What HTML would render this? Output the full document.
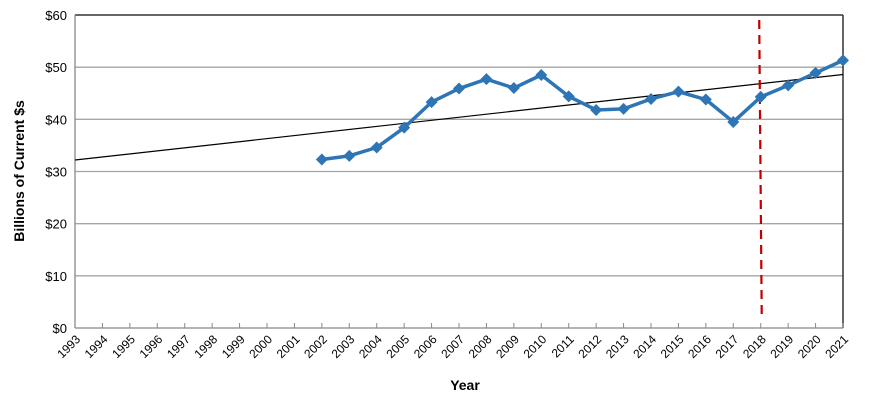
<!DOCTYPE html>
<html><head><meta charset="utf-8"><style>
body{margin:0;background:#fff;}
svg{display:block;font-family:"Liberation Sans",sans-serif;}
</style></head><body>
<svg id="chart" width="870" height="410" xmlns="http://www.w3.org/2000/svg">
<g id="grid"></g>
<g id="axes"></g>
<g id="series"></g>
<text x="465" y="390" text-anchor="middle" font-size="14" font-weight="bold">Year</text>
<text transform="translate(24,171) rotate(-90)" text-anchor="middle" font-size="14" font-weight="bold">Billions of Current $s</text>
</svg>
<script>
const years=[1993,1994,1995,1996,1997,1998,1999,2000,2001,2002,2003,2004,2005,2006,2007,2008,2009,2010,2011,2012,2013,2014,2015,2016,2017,2018,2019,2020,2021];
const dataYears=[2002,2003,2004,2005,2006,2007,2008,2009,2010,2011,2012,2013,2014,2015,2016,2017,2018,2019,2020,2021];
const values=[32.3,33,34.6,38.4,43.3,45.9,47.7,46,48.5,44.4,41.8,42,43.9,45.3,43.8,39.5,44.3,46.5,48.9,51.3];
const yTicks=[0,10,20,30,40,50,60];
const trendStart=32.2, trendEnd=48.6;
const markerYear=2018;
const NS="http://www.w3.org/2000/svg";
const L=75,R=843,T=15,B=328;
const x=y=>L+(y-1993)/(2021-1993)*(R-L);
const yv=v=>B-v/60*(B-T);
function mk(tag,attrs,parent){const e=document.createElementNS(NS,tag);for(const k in attrs)e.setAttribute(k,attrs[k]);parent.appendChild(e);return e;}
const grid=document.getElementById('grid'),axes=document.getElementById('axes'),ser=document.getElementById('series');
yTicks.forEach(t=>{
  if(t>0&&t<60){const l=mk('line',{x1:L,x2:R,y1:yv(t),y2:yv(t),stroke:'#a6a6a6','stroke-width':1.3},grid);
  
  }
  const tx=mk('text',{x:L-8,y:yv(t)+5,'text-anchor':'end','font-size':13},axes);tx.textContent='$'+t;
  
  
});
mk('line',{x1:L,x2:R,y1:T,y2:T,stroke:'#333','stroke-width':1.5},axes);
mk('line',{x1:R,x2:R,y1:T,y2:B,stroke:'#333','stroke-width':1.5},axes);
mk('line',{x1:L,x2:L,y1:T,y2:B,stroke:'#888','stroke-width':1.3},axes);
mk('line',{x1:L,x2:R,y1:B,y2:B,stroke:'#888','stroke-width':1.3},axes);
years.forEach(yr=>{
  mk('line',{x1:x(yr),x2:x(yr),y1:B,y2:B-5,stroke:'#888'},axes);
  const tx=mk('text',{x:0,y:0,'font-size':12,'text-anchor':'end',transform:`translate(${x(yr)+6},${B+12}) rotate(-45)`},axes);
  tx.textContent=yr;
  
  
});
const tl=mk('line',{x1:x(1993),y1:yv(trendStart),x2:x(2021),y2:yv(trendEnd),stroke:'#000','stroke-width':1.2},ser);


const ml=mk('line',{x1:x(markerYear)-1.5,y1:T+5,x2:x(markerYear)+1,y2:B-14,stroke:'#c00000','stroke-width':2.2,'stroke-dasharray':'9,6'},ser);


const pts=dataYears.map((yr,i)=>x(yr)+','+yv(values[i])).join(' ');
const pl=mk('polyline',{points:pts,fill:'none',stroke:'#2e75b6','stroke-width':3.5,'stroke-linejoin':'round'},ser);


dataYears.forEach((yr,i)=>{
  const cx=x(yr),cy=yv(values[i]),s=6;
  const p=mk('polygon',{points:`${cx},${cy-s} ${cx+s},${cy} ${cx},${cy+s} ${cx-s},${cy}`,fill:'#2e75b6'},ser);
  
  
});
</script>
</body></html>
